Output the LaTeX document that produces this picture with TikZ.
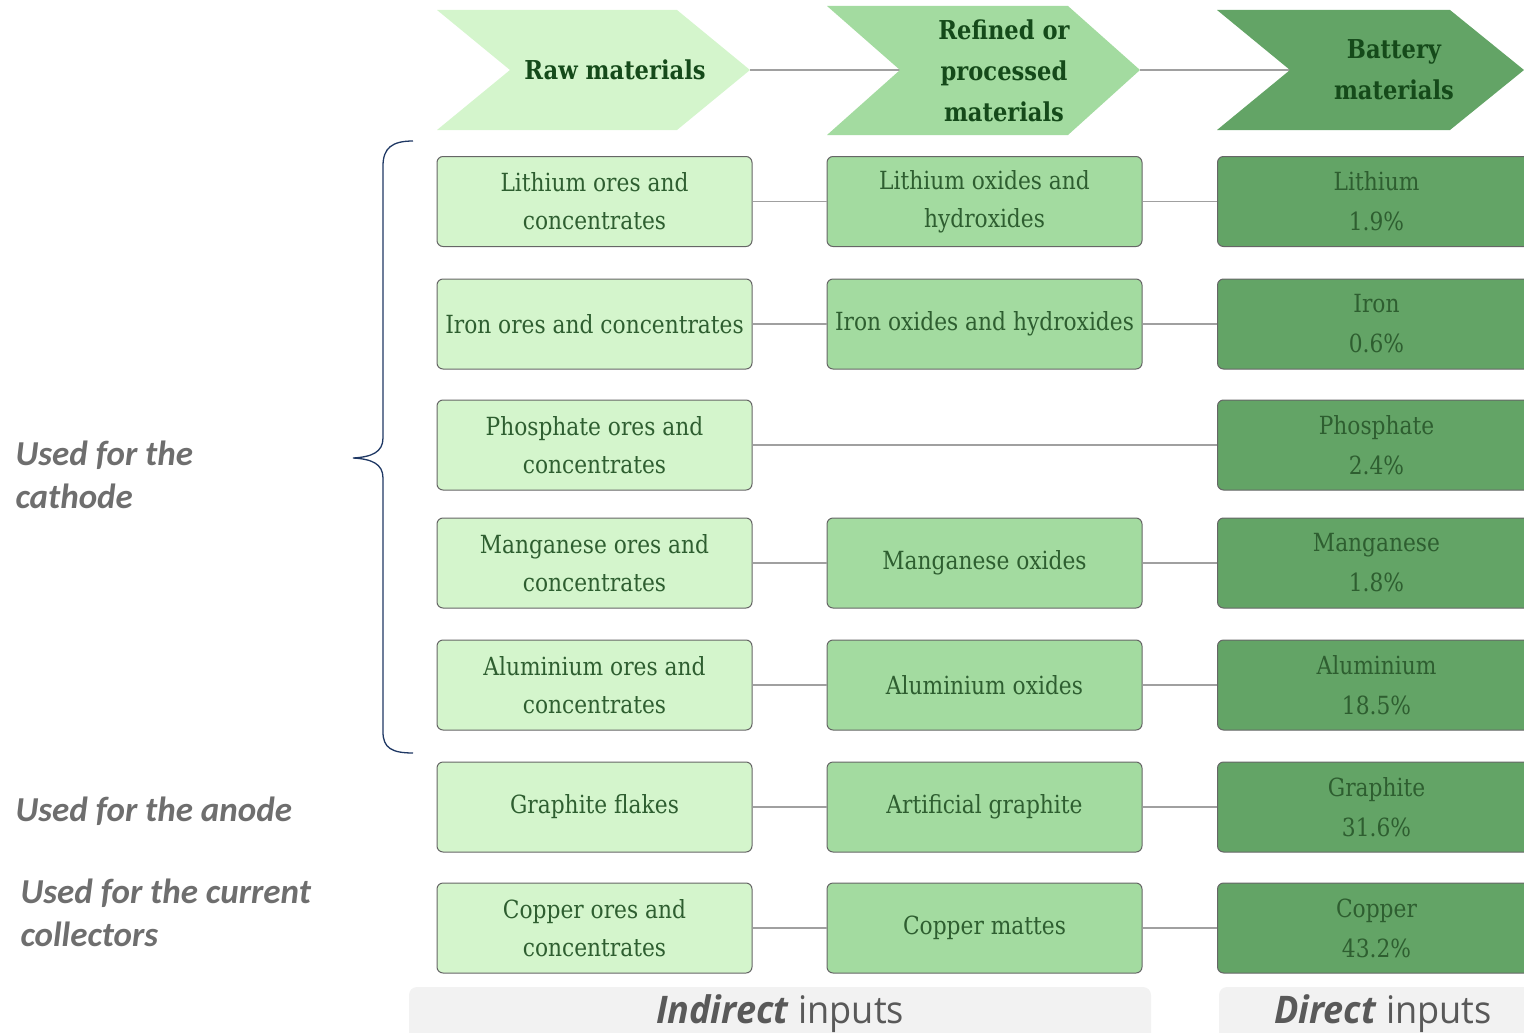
\documentclass[tikz,border=0pt]{standalone}
\usepackage{fontspec}
\setmainfont{DejaVu Serif}[FakeStretch=0.87]
\newfontfamily\labfont{Carlito}
\newfontfamily\inpfont{Open Sans}[FakeStretch=0.95]
\definecolor{cA}{HTML}{D4F5CC}
\definecolor{cB}{HTML}{A3DBA0}
\definecolor{cC}{HTML}{63A466}
\definecolor{txt}{HTML}{2E5E30}
\definecolor{hdr}{HTML}{154A1A}
\definecolor{conn}{HTML}{A0A0A0}
\definecolor{brc}{HTML}{1F3864}
\definecolor{lbl}{HTML}{6E6E6E}
\definecolor{bgbox}{HTML}{F2F2F2}
\definecolor{inp}{HTML}{595959}
\begin{document}
\begin{tikzpicture}[x=1pt,y=-1pt,
  box/.style={draw=black!60, line width=1pt, rounded corners=6pt, minimum height=90pt,
    align=center, text=txt, font=\fontsize{25}{38}\selectfont, inner sep=0pt},
  boxA/.style={box, fill=cA, minimum width=315pt},
  boxB/.style={box, fill=cB, minimum width=315pt},
  boxC/.style={box, fill=cC, minimum width=318pt, font=\fontsize{25}{40}\selectfont},
  conline/.style={draw=conn, line width=1.5pt},
  hdrtext/.style={align=center, text=hdr, font=\bfseries\fontsize{26}{41}\selectfont},
  lab/.style={anchor=west, align=left, text=lbl, font=\labfont\bfseries\itshape\fontsize{35}{43}\selectfont},
  inptext/.style={text=inp, font=\inpfont\fontsize{38}{40}\selectfont}
]
\useasboundingbox (0,0) rectangle (1524,1033);

% header connectors
\coordinate (t1) at (750,70);
\coordinate (n2) at (900,70);
\coordinate (t2) at (1140,70);
\coordinate (n3) at (1290,70);
\draw[conline] (t1) -- (n2);
\draw[conline] (t2) -- (n3);

% chevrons
\fill[cA] (437,10) -- (677,10) -- (t1) -- (677,130) -- (437,130) -- (510,70) -- cycle;
\fill[cB] (827,6) -- (1068,6) -- (t2) -- (1068,135) -- (827,135) -- (n2) -- cycle;
\fill[cC] (1217,10) -- (1450,10) -- (1524,70) -- (1450,130) -- (1217,130) -- (n3) -- cycle;
\node[hdrtext] (h1) at (615,70) {Raw materials};
\node[hdrtext] (h2) at (1004,71) {Refined or\\processed\\materials};
\node[hdrtext] (h3) at (1394,70) {Battery\\materials};

% boxes
\node[boxA] (a1) at (594.5,201.5) {Lithium ores and\\concentrates};
\node[boxB] (b1) at (984.5,201.5) {Lithium oxides and\\hydroxides};
\node[boxC] (c1) at (1376.5,201.5) {Lithium\\1.9\%};

\node[boxA] (a2) at (594.5,324) {Iron ores and concentrates};
\node[boxB] (b2) at (984.5,324) {Iron oxides and hydroxides};
\node[boxC] (c2) at (1376.5,324) {Iron\\0.6\%};

\node[boxA] (a3) at (594.5,445) {Phosphate ores and\\concentrates};
\node[boxC] (c3) at (1376.5,445) {Phosphate\\2.4\%};

\node[boxA] (a4) at (594.5,563) {Manganese ores and\\concentrates};
\node[boxB] (b4) at (984.5,563) {Manganese oxides};
\node[boxC] (c4) at (1376.5,563) {Manganese\\1.8\%};

\node[boxA] (a5) at (594.5,685) {Aluminium ores and\\concentrates};
\node[boxB] (b5) at (984.5,685) {Aluminium oxides};
\node[boxC] (c5) at (1376.5,685) {Aluminium\\18.5\%};

\node[boxA] (a6) at (594.5,807) {Graphite flakes};
\node[boxB] (b6) at (984.5,807) {Artificial graphite};
\node[boxC] (c6) at (1376.5,807) {Graphite\\31.6\%};

\node[boxA] (a7) at (594.5,928) {Copper ores and\\concentrates};
\node[boxB] (b7) at (984.5,928) {Copper mattes};
\node[boxC] (c7) at (1376.5,928) {Copper\\43.2\%};

% connectors
\foreach \r in {1,2,4,5,6,7}{
  \draw[conline] (a\r.east) -- (b\r.west);
  \draw[conline] (b\r.east) -- (c\r.west);
}
\draw[conline] (a3.east) -- (c3.west);

% brace
\draw[brc, line width=1.3pt] (413,141) .. controls (392,141) and (383,148) .. (383,166) -- (383,438)
  .. controls (383,452) and (372,457) .. (353,458)
  .. controls (372,459) and (383,464) .. (383,478) -- (383,732)
  .. controls (383,748) and (392,753) .. (413,753);

% left labels
\node[lab] (l1) at (12,475) {Used for the\\cathode};
\node[lab] (l2) at (12,811) {Used for the anode};
\node[lab] (l3) at (17,913) {Used for the current\\collectors};

% bottom input bars
\fill[bgbox, rounded corners=8pt] (409,987) rectangle (1151,1060);
\fill[bgbox, rounded corners=8pt] (1219,987) rectangle (1560,1060);
\node[inptext] (ind) at (780,1014) {\textbf{\textit{Indirect}} inputs};
\node[inptext] (dir) at (1383,1014) {\textbf{\textit{Direct}} inputs};
\end{tikzpicture}
\end{document}
